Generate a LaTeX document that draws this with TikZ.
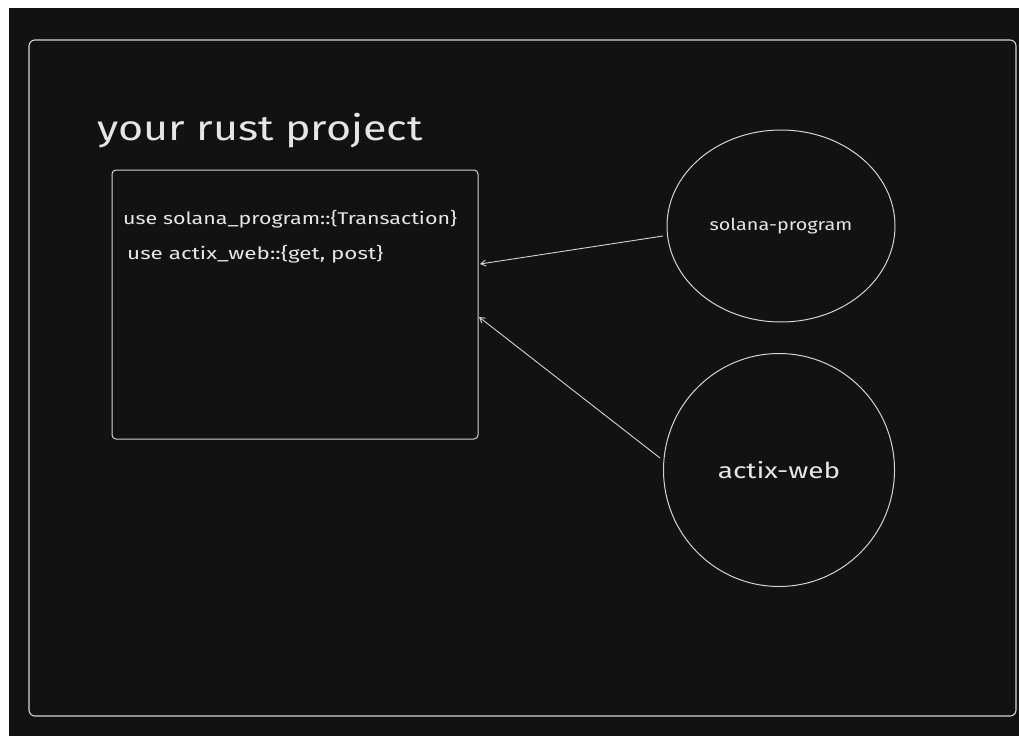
\documentclass[tikz,border=0pt]{standalone}
\usepackage{fontspec}
\usepackage{graphicx}
\setmainfont{Fira Sans}
\usetikzlibrary{arrows.meta,shapes.geometric}
\definecolor{canvas}{HTML}{121212}
\definecolor{ink}{HTML}{D4D4D4}
\definecolor{txt}{HTML}{E6E6E6}
% widened lettering for the hand-drawn look
\newcommand{\wide}[2][1.27]{\scalebox{#1}[1]{#2}}
\tikzset{
  frame/.style={draw=ink, line width=1.1pt, rounded corners=6pt},
  codebox/.style={draw=ink, line width=1pt, rounded corners=4pt},
  pkg/.style={draw=ink, line width=1pt, ellipse, text=txt},
  dep/.style={draw=ink, line width=0.9pt, -{Straight Barb[length=5pt,width=6pt]}},
  label/.style={text=txt, inner sep=0pt, anchor=base west}
}
\begin{document}
\begin{tikzpicture}[x=1pt,y=-1pt]
\useasboundingbox (0,0) rectangle (1019,736);
\fill[white] (0,0) rectangle (1019,736);
\fill[canvas] (9,8) rectangle (1019,736);
% outer frame
\draw[frame] (29,40) rectangle (1016,716);
% title
\node[label, font=\fontsize{35}{40}\selectfont] (title) at (97,140) {\wide[1.23]{your rust project}};
% project source box
\node[codebox, minimum width=366pt, minimum height=269pt, inner sep=0pt] (src) at (295,304.5) {};
\node[label, font=\fontsize{17}{20}\selectfont] (l1) at (123,224) {\wide[1.26]{use solana\_program::\{Transaction\}}};
\node[label, font=\fontsize{17}{20}\selectfont] (l2) at (127,259) {\wide[1.32]{use actix\_web::\{get, post\}}};
% crates
\node[pkg, minimum width=228pt, minimum height=192pt, font=\fontsize{16.5}{20}\selectfont] (sol) at (781,226) {\wide[1.2]{solana-program}};
\node[pkg, minimum width=231pt, minimum height=233pt, font=\fontsize{22}{26}\selectfont] (actix) at (779,470) {\wide{actix-web}};
% dependency arrows
\coordinate (s1) at (480,264);
\coordinate (s2) at (479,317);
\draw[dep] (663,236) coordinate (a1) -- (s1);
\draw[dep] (660,458) coordinate (a2) -- (s2);
\end{tikzpicture}
\end{document}
